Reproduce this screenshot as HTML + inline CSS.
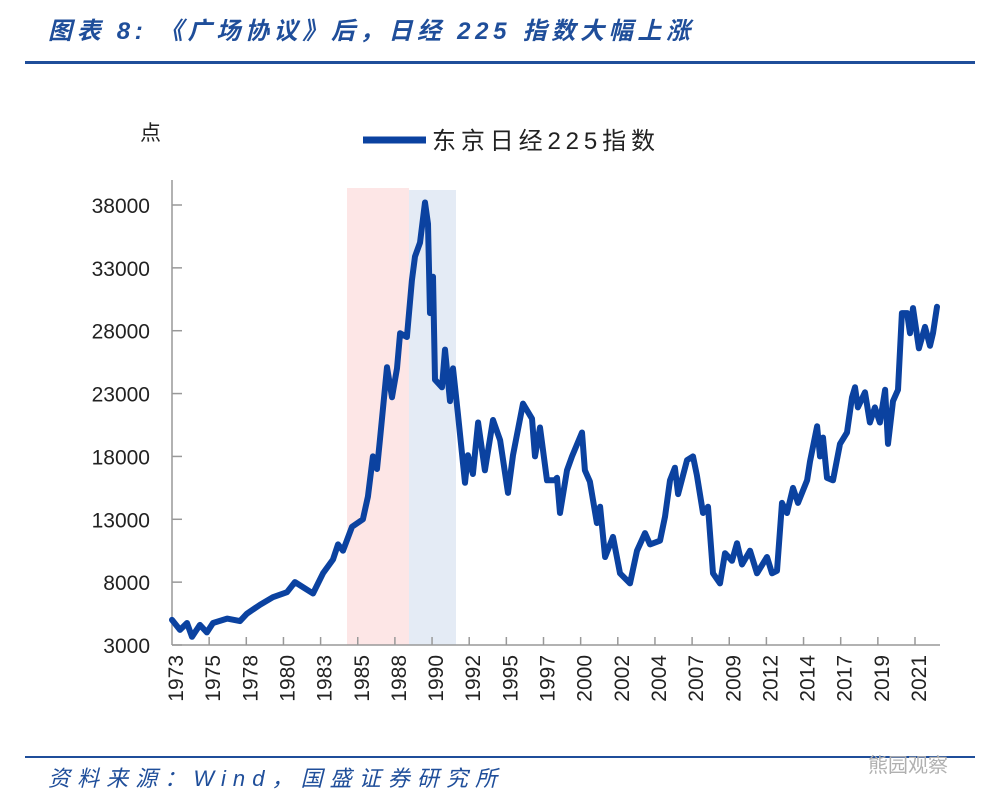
<!DOCTYPE html>
<html><head><meta charset="utf-8">
<style>
body{margin:0;background:#fff;width:1000px;height:806px;overflow:hidden;font-family:"Liberation Sans","Noto Sans CJK SC",sans-serif;}
svg text{font-family:"Liberation Sans","Noto Sans CJK SC",sans-serif;}
</style></head><body>
<svg id="chart" width="1000" height="806">
  <text x="48" y="39" font-size="24" font-style="italic" font-weight="bold" fill="#1f4e9a" textLength="642" lengthAdjust="spacing">图表 8:   《广场协议》后，日经 225 指数大幅上涨</text>
  <rect x="25" y="61" width="950" height="3" fill="#1f4e9a"/>
  <text x="140" y="140" font-size="21" fill="#222">点</text>
  <line x1="363" y1="140" x2="426" y2="140" stroke="#0b42a0" stroke-width="7"/>
  <text x="432" y="149" font-size="24" fill="#222" textLength="223" lengthAdjust="spacing">东京日经225指数</text>
  <rect x="347" y="188" width="62" height="457" fill="#fde6e6"/>
  <rect x="409" y="190" width="47" height="455" fill="#e4ebf5"/>
  <g id="axes"></g>
  <path id="line" fill="none" stroke="#0b42a0" stroke-width="6" stroke-linejoin="round" stroke-linecap="round"/>
  <rect x="25" y="756" width="950" height="2" fill="#1f4e9a"/>
  <text x="48" y="786" font-size="22" font-style="italic" fill="#1f4e9a" textLength="449" lengthAdjust="spacing">资料来源：Wind，国盛证券研究所</text>
  <text x="868" y="772" font-size="20" fill="#b0b0b0">熊园观察</text>
</svg>
<script>
const yTicks=[3000,8000,13000,18000,23000,28000,33000,38000];
const xLabels=["1973","1975","1978","1980","1983","1985","1988","1990","1992","1995","1997","2000","2002","2004","2007","2009","2012","2014","2017","2019","2021"];
const times=[1973.0,1973.51,1973.96,1974.28,1974.79,1975.24,1975.63,1976.53,1977.36,1977.81,1978.64,1979.47,1980.37,1980.88,1981.4,1982.04,1982.68,1983.32,1983.64,1983.96,1984.54,1985.24,1985.56,1985.88,1986.14,1986.33,1986.78,1987.1,1987.42,1987.62,1988.06,1988.38,1988.58,1988.9,1989.22,1989.41,1989.54,1989.73,1989.86,1990.31,1990.5,1990.82,1991.01,1991.33,1991.78,1991.97,1992.29,1992.62,1993.06,1993.58,1994.03,1994.54,1994.86,1995.5,1996.08,1996.27,1996.59,1997.04,1997.55,1997.68,1997.87,1998.32,1998.64,1999.28,1999.47,1999.79,2000.24,2000.44,2000.76,2001.27,2001.72,2002.36,2002.81,2003.32,2003.64,2004.28,2004.6,2004.92,2005.24,2005.44,2006.01,2006.4,2006.65,2007.04,2007.36,2007.68,2008.13,2008.45,2008.9,2009.22,2009.54,2010.05,2010.5,2011.14,2011.46,2011.78,2012.1,2012.42,2012.81,2013.13,2013.71,2013.9,2014.35,2014.54,2014.73,2014.99,2015.37,2015.82,2016.27,2016.59,2016.78,2016.97,2017.42,2017.74,2018.06,2018.38,2018.71,2018.9,2019.22,2019.54,2019.79,2020.12,2020.31,2020.5,2020.88,2021.27,2021.59,2021.78,2022.04];
const values=[5000,4200,4750,3650,4600,4000,4750,5100,4900,5500,6200,6800,7200,8000,7600,7100,8700,9800,11000,10500,12400,13000,14800,18000,17000,19300,25100,22700,25000,27800,27500,32000,33900,35000,38200,36500,29400,32300,24100,23500,26500,22400,25000,21400,15900,18100,16600,20700,16900,20900,19300,15100,18100,22200,21000,18000,20300,16100,16100,16300,13500,16900,18000,19900,16900,16000,12700,14000,10000,11600,8700,7900,10500,11900,11000,11300,13200,16100,17100,15000,17700,18000,16500,13500,14000,8700,7900,10300,9700,11100,9400,10500,8700,10000,8700,8900,14300,13500,15500,14300,16100,17600,20400,18000,19500,16300,16100,19000,19900,22700,23500,21900,23100,20700,21900,20700,23300,19000,22400,23300,29400,29400,27800,29800,26600,28300,26800,27800,29900];

const X0=172,XR=15.6,Y0=645,YS=(645-205)/35000;
const xs=t=>X0+(t-1973)*XR;
const ys=v=>Y0-(v-3000)*YS;
const NS="http://www.w3.org/2000/svg";
const ax=document.getElementById('axes');
function mk(tag,attrs){const e=document.createElementNS(NS,tag);for(const k in attrs)e.setAttribute(k,attrs[k]);ax.appendChild(e);return e;}
const yl=mk('line',{x1:X0,y1:180,x2:X0,y2:Y0,stroke:'#999','stroke-width':1.5});


const xl=mk('line',{x1:X0,y1:Y0,x2:940,y2:Y0,stroke:'#999','stroke-width':1.5});


yTicks.forEach(v=>{
  const tk=mk('line',{x1:X0,y1:ys(v),x2:X0+10,y2:ys(v),stroke:'#999','stroke-width':1.5});
  
  
  const t=mk('text',{x:150,y:ys(v)+8,'font-size':21,'text-anchor':'end',fill:'#222'});
  t.textContent=v;
  
  
});
xLabels.forEach((l,i)=>{
  const tx=X0+37.15*(i+1);
  if(i<20){const tk=mk('line',{x1:tx,y1:Y0,x2:tx,y2:Y0-8,stroke:'#999','stroke-width':1.5});
  
  }
  const cx=176+37.15*i;
  const t=mk('text',{x:0,y:0,'font-size':21,'text-anchor':'end',fill:'#222',transform:`translate(${cx+7},655) rotate(-90)`});
  t.textContent=l;
  
  
});
document.getElementById('line').setAttribute('d',times.map((t,i)=>(i?'L':'M')+xs(t).toFixed(1)+','+ys(values[i]).toFixed(1)).join(''));
</script>
</body></html>
